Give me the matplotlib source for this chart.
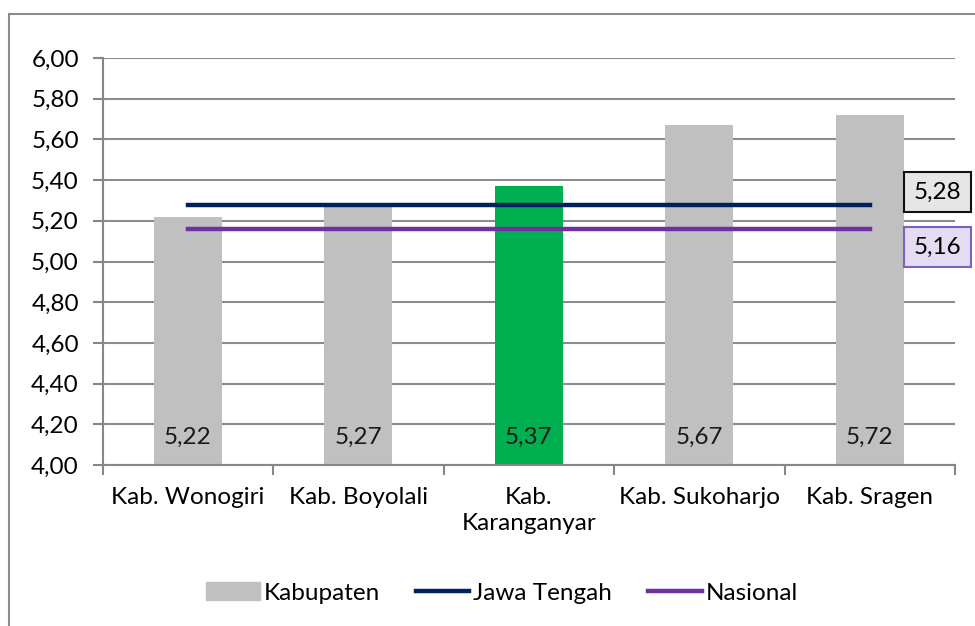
import matplotlib.pyplot as plt
from matplotlib.patches import Rectangle
from matplotlib.lines import Line2D
from matplotlib.patches import Patch

plt.rcParams['font.family'] = ['Lato', 'DejaVu Sans']

kabupaten = ['Kab. Wonogiri', 'Kab. Boyolali', 'Kab.\nKaranganyar', 'Kab. Sukoharjo', 'Kab. Sragen']
nilai = [5.22, 5.27, 5.37, 5.67, 5.72]
jawa_tengah = 5.28
nasional = 5.16
yticks = [4.0, 4.2, 4.4, 4.6, 4.8, 5.0, 5.2, 5.4, 5.6, 5.8, 6.0]

def koma(v):
    return f"{v:.2f}".replace('.', ',')

fs = 17.5
fig = plt.figure(figsize=(9.75, 6.26), dpi=100)
fig.patches.append(Rectangle((9 / 975, -0.1), 1.2, 1 - 14 / 626 + 0.1, transform=fig.transFigure,
                             fill=False, edgecolor='#8c8c8c', lw=1.5))
ax = fig.add_axes([102.5 / 975, 1 - 465 / 626, (955 - 102.5) / 975, (465 - 58) / 626])

x = list(range(len(kabupaten)))
warna = ['#C0C0C0', '#C0C0C0', '#00B050', '#C0C0C0', '#C0C0C0']
ax.bar(x, [v - 4.0 for v in nilai], bottom=4.0, width=0.4, color=warna, zorder=2)
for xi, v in zip(x, nilai):
    ax.annotate(koma(v), (xi, 4.0), xytext=(0, 20), textcoords='offset points',
                ha='center', va='center', fontsize=fs, color='#1a1a1a', zorder=4)

ax.plot([x[0], x[-1]], [jawa_tengah] * 2, color='#002060', lw=3.2, zorder=3)
ax.plot([x[0], x[-1]], [nasional] * 2, color='#7030A0', lw=3.2, zorder=3)

ax.annotate(koma(jawa_tengah), (4.4, jawa_tengah), xytext=(0, 9), textcoords='offset points',
            ha='center', va='center', fontsize=fs, annotation_clip=False, zorder=5,
            bbox=dict(boxstyle='square,pad=0.4', fc='#e6e6e6', ec='#111111', lw=1.5))
ax.annotate(koma(nasional), (4.4, nasional), xytext=(0, -13), textcoords='offset points',
            ha='center', va='center', fontsize=fs, annotation_clip=False, zorder=5,
            bbox=dict(boxstyle='square,pad=0.4', fc='#e4dcf2', ec='#7f5fbf', lw=1.5))

ax.set_xlim(-0.5, len(kabupaten) - 0.5)
ax.set_ylim(4.0, 6.0)
ax.set_yticks(yticks)
ax.set_yticklabels([koma(v) for v in yticks], fontsize=fs)
ax.set_xticks(x)
ax.set_xticklabels(kabupaten, fontsize=fs, linespacing=1.3)
ax.set_xticks([i + 0.5 for i in range(-1, len(kabupaten))], minor=True)
ax.tick_params(axis='x', which='major', length=0, pad=16)
ax.tick_params(axis='x', which='minor', length=7, color='#868686', width=1.5)
ax.tick_params(axis='y', length=7, color='#868686', width=1.5, pad=10)
ax.grid(axis='y', color='#8c8c8c', lw=1.5, zorder=1)
ax.set_axisbelow(True)
for s in ['top', 'right']:
    ax.spines[s].set_visible(False)
for s in ['left', 'bottom']:
    ax.spines[s].set_color('#868686')
    ax.spines[s].set_linewidth(1.5)

handles = [Patch(color='#C0C0C0', label='Kabupaten'),
           Line2D([], [], color='#002060', lw=3.2, label='Jawa Tengah'),
           Line2D([], [], color='#7030A0', lw=3.2, label='Nasional')]
fig.legend(handles=handles, loc='center', bbox_to_anchor=(502 / 975, 1 - 593 / 626), ncol=3,
           frameon=False, fontsize=fs, handlelength=2.2, handletextpad=0.15, columnspacing=1.5)

plt.savefig('out.png', dpi=100)
